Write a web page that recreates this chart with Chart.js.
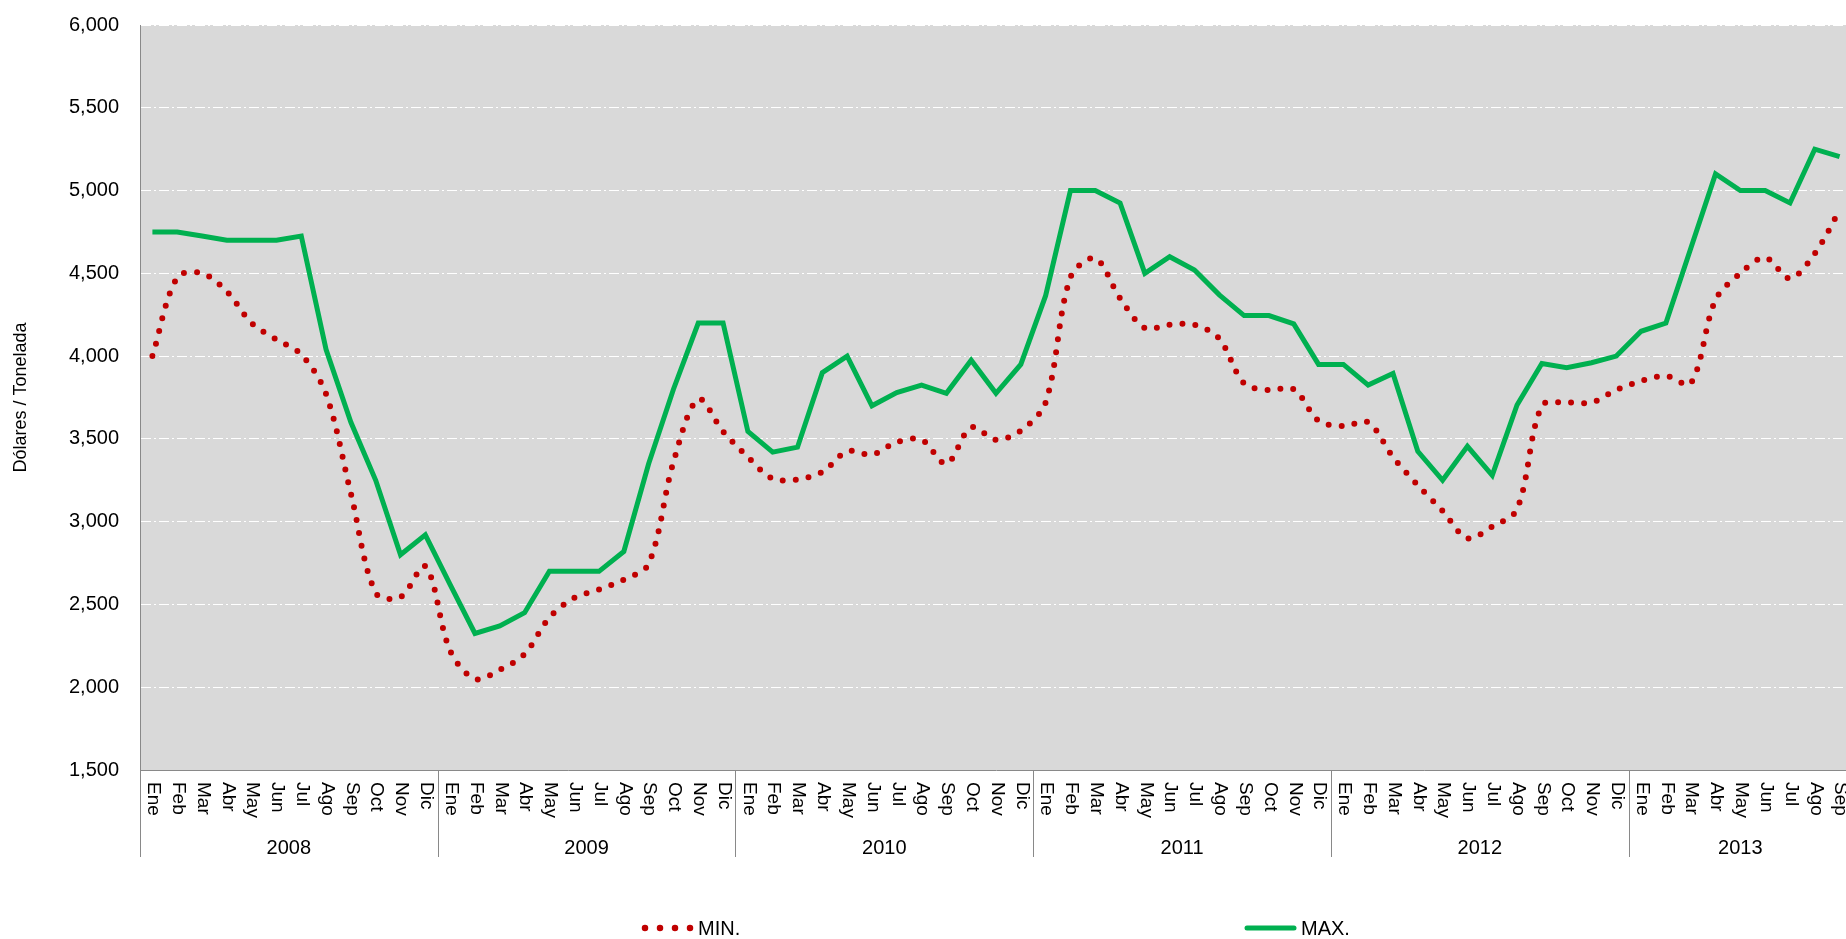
<!DOCTYPE html>
<html>
<head>
<meta charset="utf-8">
<script src="https://cdn.jsdelivr.net/npm/chart.js@4.4.0/dist/chart.umd.min.js"></script>
<style>
html,body{margin:0;padding:0;background:#ffffff;overflow:hidden;}
#wrap{position:relative;width:1852px;height:939px;}
</style>
</head>
<body>
<div id="wrap"><canvas id="c"></canvas></div>
<script>
const months = ['Ene','Feb','Mar','Abr','May','Jun','Jul','Ago','Sep','Oct','Nov','Dic'];
const years = ['2008','2009','2010','2011','2012','2013'];

const minValues = [
  4000, 4475, 4500, 4390, 4200, 4100, 4010, 3770, 3170, 2570, 2545, 2730,
  2220, 2050, 2105, 2200, 2420, 2540, 2590, 2650, 2745, 3360, 3740, 3545,
  3390, 3260, 3255, 3300, 3425, 3405, 3480, 3495, 3350, 3570, 3495, 3550,
  3720, 4475, 4590, 4350, 4170, 4190, 4190, 4105, 3835, 3795, 3800, 3610,
  3577, 3600, 3390, 3220, 3065, 2900, 2970, 3075, 3700, 3720, 3720, 3795,
  3850, 3880, 3835, 4340, 4500, 4595, 4470, 4620, 4880
];
const maxValues = [
  4750, 4750, 4725, 4700, 4700, 4700, 4725, 4040, 3600, 3250, 2800, 2920,
  2620, 2325, 2370, 2450, 2700, 2700, 2700, 2820, 3350, 3800, 4200, 4200,
  3545, 3420, 3450, 3900, 4000, 3700, 3780, 3825, 3775, 3975, 3775, 3950,
  4365, 5000, 5000, 4925, 4500, 4600, 4520, 4370, 4245, 4245, 4195, 3950,
  3950, 3825, 3895, 3425, 3250, 3455, 3280, 3705, 3955, 3930, 3960, 4000,
  4150, 4200, 4650, 5100, 5000, 5000, 4925, 5250, 5205
];
const yMin = 1500, yMax = 6000, yStep = 500;
const seriesNames = ['MIN.', 'MAX.'];
const yTitle = 'Dólares / Tonelada';

// categories: month labels with their year
const monthLabels = [];
const yearOfIndex = [];
years.forEach((y, yi) => months.forEach(m => {
  if (monthLabels.length < minValues.length) { monthLabels.push(m); yearOfIndex.push(yi); }
}));
const categories = monthLabels.map((m, i) => m + ' ' + years[yearOfIndex[i]]);

const FONT = '"Liberation Sans", Arial, Helvetica, sans-serif';
const AXIS_GRAY = '#898989';
const RED = '#C00000';
const GREEN = '#00B050';

const decor = {
  id: 'decor',
  beforeDraw(chart) {
    const {ctx, chartArea: a} = chart;
    ctx.save();
    ctx.fillStyle = '#D9D9D9';
    ctx.fillRect(a.left, a.top, a.right - a.left, a.bottom - a.top);
    ctx.restore();
  },
  afterDraw(chart) {
    const {ctx, chartArea: a} = chart;
    const x = chart.scales.x;
    const n = monthLabels.length;
    const step = x.getPixelForValue(1) - x.getPixelForValue(0);
    ctx.save();
    // month labels, rotated clockwise
    ctx.fillStyle = '#000';
    ctx.font = '19px ' + FONT;
    ctx.textAlign = 'left';
    ctx.textBaseline = 'middle';
    monthLabels.forEach((m, i) => {
      const px = x.getPixelForValue(i);
      ctx.save();
      ctx.translate(px + 1, a.bottom + 12);
      ctx.rotate(Math.PI / 2);
      ctx.fillText(m, 0, 0);
      ctx.restore();
    });
    // year separators
    ctx.strokeStyle = AXIS_GRAY;
    ctx.lineWidth = 1;
    for (let k = 0; k * 12 <= n; k++) {
      const idx = k * 12;
      const px = Math.round(x.getPixelForValue(Math.min(idx, n - 1)) + (idx < n ? -step / 2 : step / 2)) + 0.5;
      ctx.beginPath();
      ctx.moveTo(px, a.bottom);
      ctx.lineTo(px, a.bottom + 87);
      ctx.stroke();
    }
    // year labels
    ctx.font = '20px ' + FONT;
    ctx.textAlign = 'center';
    years.forEach((y, k) => {
      const s = k * 12;
      if (s >= n) return;
      const e = Math.min(s + 11, n - 1);
      const cx = (x.getPixelForValue(s) + x.getPixelForValue(e)) / 2;
      ctx.fillText(y, cx, a.bottom + 78);
    });
    // legend
    const ly = 928;
    ctx.lineCap = 'round';
    ctx.strokeStyle = RED;
    ctx.lineWidth = 6.5;
    ctx.setLineDash([0, 15]);
    ctx.beginPath();
    ctx.moveTo(645, ly);
    ctx.lineTo(691, ly);
    ctx.stroke();
    ctx.setLineDash([]);
    ctx.strokeStyle = GREEN;
    ctx.lineWidth = 5;
    ctx.beginPath();
    ctx.moveTo(1247, ly);
    ctx.lineTo(1294, ly);
    ctx.stroke();
    ctx.fillStyle = '#000';
    ctx.font = '20px ' + FONT;
    ctx.textAlign = 'left';
    ctx.textBaseline = 'middle';
    ctx.fillText(seriesNames[0], 698, ly + 1);
    ctx.fillText(seriesNames[1], 1301, ly + 1);
    ctx.restore();
  }
};

new Chart(document.getElementById('c'), {
  type: 'line',
  data: {
    labels: categories,
    datasets: [
      {
        label: seriesNames[0],
        data: minValues,
        borderColor: RED,
        backgroundColor: RED,
        borderWidth: 6,
        borderDash: [0, 13],
        borderCapStyle: 'round',
        pointRadius: 0,
        tension: 0.33,
        fill: false,
        order: 2
      },
      {
        label: seriesNames[1],
        data: maxValues,
        borderColor: GREEN,
        backgroundColor: GREEN,
        borderWidth: 5,
        pointRadius: 0,
        tension: 0,
        fill: false,
        order: 1
      }
    ]
  },
  options: {
    responsive: true,
    maintainAspectRatio: false,
    animation: false,
    layout: {padding: {top: 25, bottom: 82, left: 0, right: 0}},
    plugins: {legend: {display: false}, tooltip: {enabled: false}},
    scales: {
      x: {
        type: 'category',
        offset: true,
        grid: {display: false},
        border: {display: true, color: AXIS_GRAY, width: 1},
        ticks: {display: false},
        afterFit(s) { s.height = 87; s.paddingLeft = 0; s.paddingRight = 0; }
      },
      y: {
        min: yMin,
        max: yMax,
        ticks: {
          stepSize: yStep,
          padding: 21,
          color: '#000',
          font: {family: FONT, size: 20},
          callback: v => Number(v).toLocaleString('en-US')
        },
        grid: {
          color: c => (c.tick && c.tick.value === yMin) ? 'rgba(0,0,0,0)' : '#FFFFFF',
          lineWidth: 1,
          drawTicks: false
        },
        border: {display: true, color: AXIS_GRAY, width: 1, dash: [10, 3, 2, 3]},
        title: {
          display: true,
          text: yTitle,
          color: '#000',
          font: {family: FONT, size: 18},
          padding: {top: 10, bottom: 0}
        },
        afterFit(s) { s.width = 140; s.paddingTop = 0; s.paddingBottom = 0; }
      }
    }
  },
  plugins: [decor]
});
</script>
</body>
</html>
